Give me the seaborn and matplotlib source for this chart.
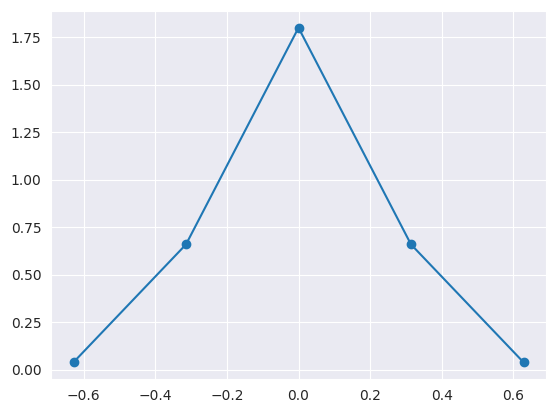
import seaborn as sns
import matplotlib.pyplot as plt
import pandas as pd

x_values = [-0.628, -0.314, 0.0, 0.314, 0.628]
y_values = [0.04, 0.66, 1.80, 0.66, 0.04]

sns.set_style("darkgrid")

data = pd.DataFrame({"x": x_values, "y": y_values})

fig = plt.figure(figsize=(5.56, 4.13), dpi=100)
ax = fig.add_axes([51 / 556, 1 - 379 / 413, 495 / 556, 368 / 413])
sns.lineplot(data=data, x="x", y="y", ax=ax, color="#1f77b4", marker="o",
             markersize=6, markeredgecolor="#1f77b4", markeredgewidth=1.0,
             linewidth=1.5)
ax.set_xlabel("")
ax.set_ylabel("")

fig.savefig("out.png", dpi=100)
